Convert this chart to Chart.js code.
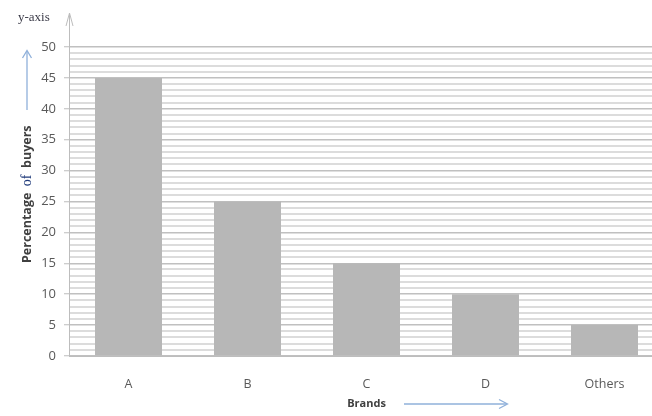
<!DOCTYPE html>
<html>
<head>
<meta charset="utf-8">
<script src="https://cdn.jsdelivr.net/npm/chart.js@4/dist/chart.umd.min.js"></script>
<style>
  html, body { margin: 0; padding: 0; background: #fff; overflow: hidden; width: 652px; height: 416px; }
  #wrap { width: 670px; height: 416px; }
</style>
</head>
<body>
<div id="wrap"><canvas id="c" width="670" height="416"></canvas></div>
<script>
const categories = ['A', 'B', 'C', 'D', 'Others'];
const buyers = [45, 25, 15, 10, 5];
const yMin = 0, yMax = 50, majorStep = 5, minorStep = 1;
const xTitle = 'Brands';
const yTitleParts = ['Percentage  ', 'of', '  buyers'];
const cornerLabel = 'y-axis';

const decor = {
  id: 'decor',
  afterDraw(chart) {
    const ctx = chart.ctx, a = chart.chartArea;
    ctx.save();
    // y-axis extension with open arrowhead
    ctx.strokeStyle = '#bdbdbd'; ctx.lineWidth = 1;
    ctx.beginPath(); ctx.moveTo(a.left + 0.5, a.top); ctx.lineTo(a.left + 0.5, 14); ctx.stroke();
    ctx.beginPath(); ctx.moveTo(a.left - 3, 26); ctx.lineTo(a.left + 0.5, 13); ctx.lineTo(a.left + 4, 26); ctx.stroke();
    // corner label
    ctx.fillStyle = '#3b3b48';
    ctx.font = '13px "Liberation Serif", serif';
    ctx.textBaseline = 'middle'; ctx.textAlign = 'left';
    ctx.fillText(cornerLabel, 18, 18);
    // blue arrows
    ctx.strokeStyle = '#8fb0da'; ctx.lineWidth = 1.3;
    ctx.beginPath(); ctx.moveTo(27, 110); ctx.lineTo(27, 51); ctx.stroke();
    ctx.beginPath(); ctx.moveTo(22.5, 58); ctx.lineTo(27, 50.5); ctx.lineTo(31.5, 58); ctx.stroke();
    ctx.beginPath(); ctx.moveTo(404, 404); ctx.lineTo(507, 404); ctx.stroke();
    ctx.beginPath(); ctx.moveTo(499, 399.5); ctx.lineTo(507.5, 404); ctx.lineTo(499, 408.5); ctx.stroke();
    // y title with mixed fonts
    ctx.translate(27, 263);
    ctx.rotate(-Math.PI / 2);
    ctx.textAlign = 'left'; ctx.textBaseline = 'middle';
    const fonts = ['bold 12.5px "Open Sans", sans-serif', '14px "Liberation Serif", serif', 'bold 12.5px "Open Sans", sans-serif'];
    const colors = ['#404040', '#1f3a7a', '#404040'];
    let x = 0;
    yTitleParts.forEach((t, i) => {
      ctx.font = fonts[i]; ctx.fillStyle = colors[i];
      ctx.fillText(t, x, 0);
      x += ctx.measureText(t).width;
    });
    ctx.restore();
  }
};

new Chart(document.getElementById('c'), {
  type: 'bar',
  data: {
    labels: categories,
    datasets: [{
      data: buyers,
      backgroundColor: '#b7b7b7',
      borderWidth: 0,
      categoryPercentage: 1,
      barPercentage: 0.563
    }]
  },
  options: {
    responsive: false,
    animation: false,
    devicePixelRatio: 1,
    layout: { padding: { top: 47, left: 0, right: 6, bottom: 0 } },
    plugins: { legend: { display: false }, tooltip: { enabled: false } },
    scales: {
      x: {
        grid: { display: false },
        border: { color: '#bdbdbd', width: 1 },
        ticks: { color: '#595959', font: { family: 'Open Sans', size: 12.5 }, padding: 13 },
        title: {
          display: true, text: xTitle, color: '#404040',
          font: { family: 'Open Sans', size: 11, weight: 'bold' },
          padding: { top: 0, bottom: 6 }
        },
        afterFit(s) { s.height = 60; }
      },
      y: {
        min: yMin, max: yMax,
        border: { color: '#bdbdbd', width: 1 },
        grid: {
          color: c => (c.tick && c.tick.value % majorStep === 0) ? '#c0c0c0' : '#dcdcdc',
          lineWidth: c => (c.tick && c.tick.value % majorStep === 0) ? 1.5 : 2,
          tickColor: c => (c.tick && c.tick.value % majorStep === 0) ? '#bdbdbd' : 'rgba(0,0,0,0)',
          tickLength: 5,
          tickWidth: 1
        },
        ticks: {
          stepSize: minorStep,
          autoSkip: false,
          color: '#595959',
          font: { family: 'Open Sans', size: 13 },
          padding: 8,
          callback: v => (v % majorStep === 0 ? v : '')
        },
        afterFit(s) { s.width = 69; }
      }
    }
  },
  plugins: [decor]
});
</script>
</body>
</html>
